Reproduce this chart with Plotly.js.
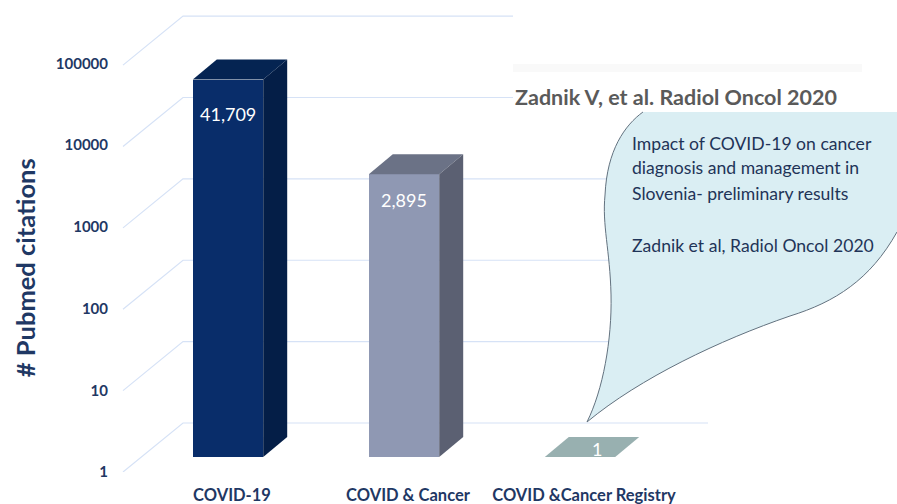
<!DOCTYPE html>
<html>
<head>
<meta charset="utf-8">
<script src="https://cdn.plot.ly/plotly-3.0.1.min.js"></script>
<style>
  html, body { margin: 0; padding: 0; background: #ffffff; }
  #chart { width: 897px; height: 504px; }
</style>
</head>
<body>
<div id="chart"></div>
<script>
// ---------------- data ----------------
const categories = ['COVID-19', 'COVID & Cancer', 'COVID &Cancer Registry'];
const citations = [41709, 2895, 1];
const tickVals = [1, 10, 100, 1000, 10000, 100000];
const tickText = ['1', '10', '100', '1000', '10000', '100000'];
const axisTitle = '# Pubmed citations';
const sourceText = 'Zadnik V, et al. Radiol Oncol 2020';
const bubbleLines = [
  'Impact of COVID-19 on cancer',
  'diagnosis and management in',
  'Slovenia- preliminary results',
  'Zadnik et al, Radiol Oncol 2020'
];

// ---------------- style ----------------
const W = 897, H = 504;
const navy = '#1F3864';
const frontColors = ['#092D6A', '#8F98B3', '#98B0B0'];
const topColors = ['#052452', '#6B7286', '#98B0B0'];
const sideColors = ['#041E47', '#5B6072', '#98B0B0'];
const gridColor = '#D6E2F6';

// geometry (pixels)
const barPlane = { left: 140, right: 668, bottom: 457, top: 48.5 };
const frontPlane = { x: 123, bottom: 472, right: 708 };
const gridDecades = 5.8;           // room above the top tick so the back wall is not clipped
const backOffset = { dx: 60, dy: 49 };
const barDepth = { dx: 24, dy: 20 };
const barWidth = 0.4;
const labelDrop = [21, 13];
const bubbleLineY = [143, 168, 193, 245];

const pxPerDecade = (barPlane.bottom - barPlane.top) / 5;
const frontTop = frontPlane.bottom - 5 * pxPerDecade;
const gridTop = frontPlane.bottom - gridDecades * pxPerDecade;
const depthFactor = Math.pow(10, barDepth.dy / pxPerDecade);
const pxPerCat = (barPlane.right - barPlane.left) / categories.length;
const halfW = barWidth * pxPerCat / 2;

const fx = x => x / W;
const fy = y => 1 - y / H;
const f = n => Number(n).toFixed(4);

// ---------------- traces ----------------
const barTrace = {
  type: 'bar',
  x: categories,
  y: citations,
  width: barWidth,
  marker: { color: frontColors, line: { width: 0 } },
  hoverinfo: 'x+y',
  showlegend: false,
  xaxis: 'x', yaxis: 'y'
};
const frontAxisTrace = {
  type: 'scatter',
  x: tickVals.map(() => 0.5),
  y: tickVals,
  mode: 'markers',
  marker: { opacity: 0, size: 1 },
  hoverinfo: 'skip',
  showlegend: false,
  xaxis: 'x2', yaxis: 'y2'
};
const gridAxisTrace = Object.assign({}, frontAxisTrace, { yaxis: 'y3' });

// ---------------- shapes ----------------
const shapes = [];
// front-to-back wall grid lines
tickVals.forEach(v => {
  shapes.push({
    type: 'path', layer: 'below',
    xref: 'paper', yref: 'y3',
    xsizemode: 'pixel', ysizemode: 'pixel',
    xanchor: fx(frontPlane.x), yanchor: v,
    path: `M0,0 L${backOffset.dx},${backOffset.dy} L${frontPlane.right - frontPlane.x},${backOffset.dy}`,
    line: { color: gridColor, width: 1.2 }
  });
});
// 3-D faces of the bars
categories.forEach((c, i) => {
  const v = citations[i];
  const vb = v * depthFactor;
  shapes.push({
    type: 'path', layer: 'above',
    xref: 'x', yref: 'y', xsizemode: 'pixel', ysizemode: 'scaled', xanchor: c,
    path: `M${f(-halfW)},${f(v)} L${f(halfW)},${f(v)} L${f(halfW + barDepth.dx)},${f(vb)} L${f(-halfW + barDepth.dx)},${f(vb)} Z`,
    fillcolor: topColors[i], line: { width: 0 }
  });
  if (v > 1) {
    shapes.push({
      type: 'path', layer: 'above',
      xref: 'x', yref: 'y', xsizemode: 'pixel', ysizemode: 'scaled', xanchor: c,
      path: `M${f(halfW)},${f(v)} L${f(halfW + barDepth.dx)},${f(vb)} L${f(halfW + barDepth.dx)},${f(depthFactor)} L${f(halfW)},1 Z`,
      fillcolor: sideColors[i], line: { width: 0 }
    });
  }
});
// white background of the pasted reference
shapes.push({
  type: 'rect', layer: 'above', xref: 'paper', yref: 'paper',
  x0: fx(513), x1: 1, y0: fy(111), y1: 1,
  fillcolor: '#FFFFFF', line: { width: 0 }
});
shapes.push({
  type: 'rect', layer: 'above', xref: 'paper', yref: 'paper',
  x0: fx(513), x1: fx(862), y0: fy(72), y1: fy(64),
  fillcolor: '#F9F9F9', line: { width: 0 }
});
// speech bubble
const P = (x, y) => `${f(fx(x))},${f(fy(y))}`;
const bubbleCurve =
  `C${P(870,280)} ${P(835,302)} ${P(790,316)} ` +
  `C${P(720,340)} ${P(640,378)} ${P(587,422)} ` +
  `C${P(603,390)} ${P(612,340)} ${P(611,295)} ` +
  `C${P(610,250)} ${P(602,225)} ${P(605,195)} ` +
  `C${P(607,150)} ${P(625,125)} ${P(643,112)}`;
shapes.push({
  type: 'path', layer: 'above', xref: 'paper', yref: 'paper',
  path: `M${P(643,112)} L${P(897,112)} L${P(897,232)} ${bubbleCurve} Z`,
  fillcolor: '#DAEEF3', line: { width: 0 }
});
shapes.push({
  type: 'path', layer: 'above', xref: 'paper', yref: 'paper',
  path: `M${P(897,232)} ${bubbleCurve}`,
  line: { color: '#63727F', width: 1 }
});

// ---------------- annotations ----------------
const annotations = [];
citations.forEach((v, i) => {
  const txt = v.toLocaleString('en-US');
  if (v > 1) {
    annotations.push({
      xref: 'x', yref: 'y', x: categories[i], y: Math.log10(v),
      text: txt, showarrow: false, xanchor: 'center', yanchor: 'top',
      yshift: -labelDrop[i],
      font: { family: 'Lato', size: 18, color: '#FFFFFF' }
    });
  } else {
    annotations.push({
      xref: 'x', yref: 'y', x: categories[i], y: Math.log10(v),
      text: txt, showarrow: false, xanchor: 'center', yanchor: 'middle',
      xshift: barDepth.dx / 2 + 5, yshift: barDepth.dy / 2 - 2,
      font: { family: 'Lato', size: 18, color: '#FFFFFF' }
    });
  }
});
annotations.push({
  xref: 'paper', yref: 'paper', x: fx(513), y: fy(97),
  xanchor: 'left', yanchor: 'middle', showarrow: false,
  text: sourceText,
  font: { family: 'Lato', size: 21.5, color: '#5A5A5A', weight: 'bold' }
});
bubbleLines.forEach((t, i) => {
  annotations.push({
    xref: 'paper', yref: 'paper', x: fx(630), y: fy(bubbleLineY[i]),
    xanchor: 'left', yanchor: 'middle', showarrow: false,
    text: t,
    font: { family: 'Lato', size: 17.6, color: '#1F3458' }
  });
});

// ---------------- layout ----------------
const layout = {
  width: W, height: H, autosize: false,
  margin: { l: 0, r: 0, t: 0, b: 0, pad: 0 },
  paper_bgcolor: '#FFFFFF',
  plot_bgcolor: 'rgba(0,0,0,0)',
  showlegend: false,
  bargap: 0,
  xaxis: {
    domain: [fx(barPlane.left), fx(barPlane.right)],
    type: 'category', range: [-0.5, categories.length - 0.5],
    anchor: 'y', showgrid: false, zeroline: false, showline: false, ticks: '',
    ticklabelstandoff: 26, ticklabelshift: 4,
    tickfont: { family: 'Lato', size: 16.5, color: navy, weight: 'bold' }
  },
  yaxis: {
    domain: [fy(barPlane.bottom), fy(barPlane.top)],
    type: 'log', range: [0, 5], anchor: 'x',
    showgrid: false, zeroline: false, showline: false, showticklabels: false, ticks: ''
  },
  xaxis2: {
    domain: [fx(frontPlane.x), fx(frontPlane.right)],
    range: [0, 1], anchor: 'y2', visible: false
  },
  yaxis2: {
    domain: [fy(frontPlane.bottom), fy(frontTop)],
    type: 'log', range: [0, 5], anchor: 'x2',
    tickvals: tickVals, ticktext: tickText,
    showgrid: false, zeroline: false, showline: false, ticks: '',
    ticklabelstandoff: 14,
    tickfont: { family: 'Lato', size: 15, color: navy, weight: 'bold' },
    title: {
      text: axisTitle, standoff: 12,
      font: { family: 'Lato', size: 25.5, color: navy, weight: 'bold' }
    }
  },
  yaxis3: {
    domain: [fy(frontPlane.bottom), fy(gridTop)],
    type: 'log', range: [0, gridDecades], anchor: 'x2', visible: false
  },
  shapes: shapes,
  annotations: annotations
};

Plotly.newPlot('chart', [barTrace, frontAxisTrace, gridAxisTrace], layout, { displayModeBar: false, staticPlot: true });
</script>
</body>
</html>
